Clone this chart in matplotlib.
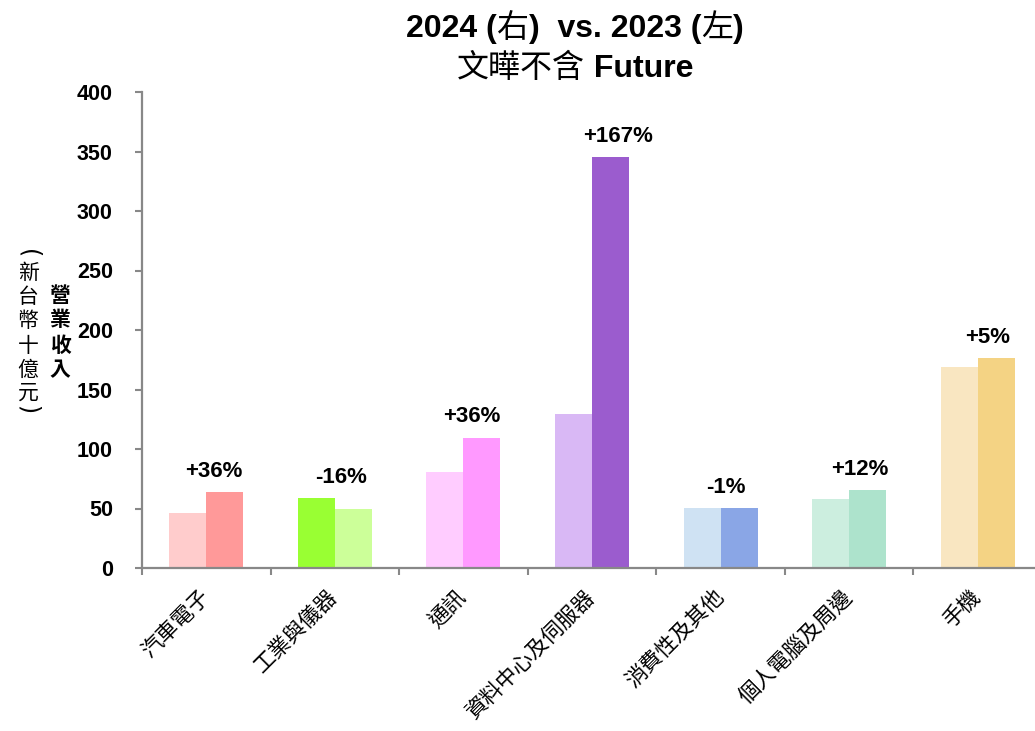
import matplotlib
matplotlib.use("Agg")
import matplotlib.pyplot as plt
from matplotlib.ticker import FixedLocator, NullFormatter
from matplotlib.transforms import ScaledTranslation
from matplotlib.font_manager import FontProperties

plt.rcParams['font.family'] = ['Liberation Sans', 'Noto Sans CJK TC', 'DejaVu Sans']

categories = ['汽車電子', '工業與儀器', '通訊', '資料中心及伺服器', '消費性及其他', '個人電腦及周邊', '手機']
rev_2023 = [46.5, 59, 81, 129, 50.5, 58, 169]
rev_2024 = [63.5, 50, 109.5, 345.5, 50.5, 65.5, 176.5]
growth_labels = ['+36%', '-16%', '+36%', '+167%', '-1%', '+12%', '+5%']
colors_2023 = ['#FFCCCC', '#99FF33', '#FFCCFF', '#D9B8F5', '#CFE2F3', '#CCEEDF', '#F9E6C1']
colors_2024 = ['#FF9999', '#CCFF99', '#FF99FF', '#9B5CCE', '#8AA6E6', '#ADE3CC', '#F4D384']
yticks = [0, 50, 100, 150, 200, 250, 300, 350, 400]
title_line1 = [('2024 (', 'latin'), ('右', 'cjk'), (')  vs. 2023 (', 'latin'), ('左', 'cjk'), (')', 'latin')]
title_line2 = [('文曄不含', 'cjk'), (' Future', 'latin')]
ylabel_main = '營業收入'
ylabel_unit = ['(', '新', '台', '幣', '十', '億', '元', ')']

W, H = 1035, 731
fig = plt.figure(figsize=(W / 100, H / 100), dpi=100)
ax = fig.add_axes([142 / W, 1 - 568 / H, (1042 - 142) / W, (568 - 92) / H])

bw = 0.288
x = list(range(len(categories)))
ax.bar([i - bw / 2 for i in x], rev_2023, width=bw, color=colors_2023, linewidth=0)
ax.bar([i + bw / 2 for i in x], rev_2024, width=bw, color=colors_2024, linewidth=0)

label_dx = [8, 6, 8, 26, 5, 11, 10]  # pixel offsets
for i, lab in enumerate(growth_labels):
    top = max(rev_2023[i], rev_2024[i])
    ax.annotate(lab, xy=(i, top), xytext=(label_dx[i] * 0.72, 11), textcoords='offset points',
                ha='center', va='baseline', fontsize=16, fontweight='bold',
                family=['Liberation Sans', 'DejaVu Sans'])

ax.set_xlim(-0.5, len(categories) - 0.5)
ax.set_ylim(0, 400)
ax.set_yticks(yticks)
ax.set_yticklabels([str(v) for v in yticks], fontsize=15.5, fontweight='bold',
                   family=['Liberation Sans', 'DejaVu Sans'])
ax.tick_params(axis='y', direction='out', length=5, width=1.5, color='#888888', pad=16)

ax.set_xticks(x)
ax.set_xticklabels(categories, rotation=45, ha='right', va='top', rotation_mode='anchor',
                   fontsize=15.5, family=['Noto Sans CJK TC', 'DejaVu Sans'])
ax.tick_params(axis='x', which='major', length=0, pad=14)
shift = ScaledTranslation(-8 / 100, 2 / 100, fig.dpi_scale_trans)
for lbl in ax.get_xticklabels():
    lbl.set_transform(lbl.get_transform() + shift)
ax.xaxis.set_minor_locator(FixedLocator([i - 0.5 for i in range(len(categories) + 1)]))
ax.xaxis.set_minor_formatter(NullFormatter())
ax.tick_params(axis='x', which='minor', direction='out', length=5, width=1.5, color='#888888')

for s in ['top', 'right']:
    ax.spines[s].set_visible(False)
for s in ['left', 'bottom']:
    ax.spines[s].set_color('#888888')
    ax.spines[s].set_linewidth(1.6)

# title built from segments (bold latin, regular CJK)
fp_latin = FontProperties(family=['Liberation Sans', 'DejaVu Sans'], weight='bold', size=23)
fp_cjk = FontProperties(family=['Noto Sans CJK TC', 'DejaVu Sans'], weight='normal', size=23)
renderer = fig.canvas.get_renderer()


def draw_line(segments, cx, cy):
    texts = []
    for s, kind in segments:
        fp = fp_latin if kind == 'latin' else fp_cjk
        t = fig.text(0, 0, s, fontproperties=fp, ha='left', va='baseline',
                     transform=None)
        texts.append(t)
    widths = [t.get_window_extent(renderer).width for t in texts]
    total = sum(widths)
    xpos = cx - total / 2
    for t, w in zip(texts, widths):
        t.set_position((xpos, cy))
        xpos += w


draw_line(title_line1, 575, H - 37)
draw_line(title_line2, 575, H - 77)

# vertical stacked y-axis label
for k, ch in enumerate(ylabel_main):
    fig.text(60 / W, 1 - (295 + k * 25) / H, ch, ha='center', va='center', fontsize=15,
             fontweight='bold', family=['Noto Sans CJK TC', 'DejaVu Sans'])
ys_unit = [254, 273, 297, 321, 346, 370, 393, 410]
for k, ch in enumerate(ylabel_unit):
    if ch in '()':
        fig.text(28 / W, 1 - ys_unit[k] / H, ch, ha='center', va='center', fontsize=17,
                 rotation=270, family=['DejaVu Sans'])
    else:
        fig.text(28 / W, 1 - ys_unit[k] / H, ch, ha='center', va='center', fontsize=15,
                 family=['Noto Sans CJK TC', 'DejaVu Sans'])

fig.savefig('out.png', dpi=100)
